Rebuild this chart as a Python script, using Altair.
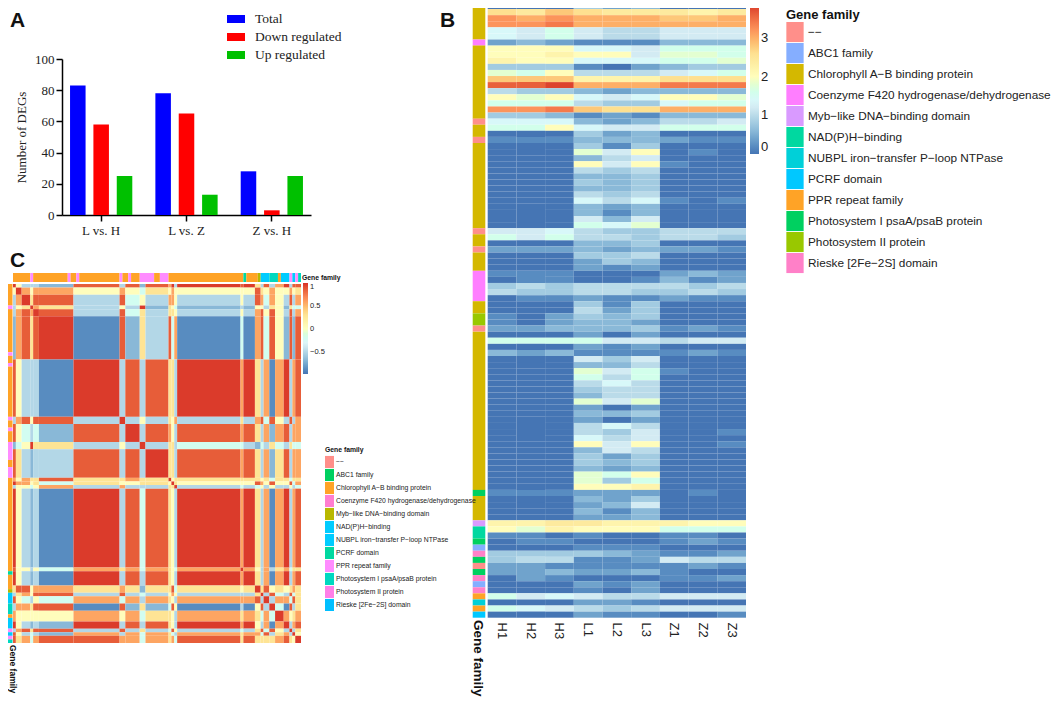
import altair as alt
import pandas as pd

# ---------- Panel A ----------
groups = ["L vs. H", "L vs. Z", "Z vs. H"]
series = ["Total", "Down regulated", "Up regulated"]
series_colors = ["#0000ff", "#ff0000", "#00c000"]
total = [83, 78, 28]
down = [58, 65, 3]
up = [25, 13, 25]

# ---------- Panel B ----------
samples = ["H1", "H2", "H3", "L1", "L2", "L3", "Z1", "Z2", "Z3"]
b_digits = "0123456789abcdefghij"
b_step = 0.2
b_rows = [
    "000423000", "dcedcccbc", "gfgfffeef", "gghffffff", "768655666", "768655666",
    "232111333", "aaa776888", "aabaa6998", "baa777889", "444102344", "98a555678",
    "eeebbbddd", "iijfffhhh", "544323333", "a9a767aa9", "888544788", "ggheddfff",
    "443121333", "777323556", "88a766888", "000423000", "111333211", "000414000",
    "00096a010", "000356000", "000a6a100", "000545000", "000334000", "000434000",
    "000334000", "000545000", "000757101", "000323000", "000313000", "000636000",
    "000879000", "667544555", "868554554", "000334000", "222323221", "000445000",
    "000243000", "000212000", "111000232", "011001312", "454555545", "544554454",
    "011211211", "000414000", "000524000", "102434000", "102332000", "223334121",
    "000202000", "888866566", "000212000", "323111121", "000646000", "000335000",
    "000968100", "000858000", "000575000", "000455000", "000355000", "000969000",
    "000202000", "000334000", "000202000", "000575000", "000546001", "000756000",
    "000a6a001", "000365000", "000424000", "000434000", "000323000", "00098a000",
    "000948000", "000aab000", "111222010", "000324000", "000236000", "000313000",
    "000223000", "bbccbbbaa", "a9baaa888", "110100110", "011000121", "000111000",
    "444432112", "455112655", "221111121", "223223100", "021000112", "000212000",
    "000102000", "867655666", "000221000", "876545666", "000211001",
]
families = [
    "\u2212\u2212", "ABC1 family", "Chlorophyll A\u2212B binding protein",
    "Coenzyme F420 hydrogenase/dehydrogenase", "Myb\u2212like DNA\u2212binding domain",
    "NAD(P)H\u2212binding", "NUBPL iron\u2212transfer P\u2212loop NTPase", "PCRF domain",
    "PPR repeat family", "Photosystem I psaA/psaB protein", "Photosystem II protein",
    "Rieske [2Fe\u22122S] domain",
]
b_family_colors = ["#ff8f8a", "#85aeff", "#d4b800", "#ff7eff", "#d99aff", "#00d8a0",
                   "#00d0d8", "#00c8ff", "#ffa326", "#00d060", "#99c800", "#ff80c8"]
# family index and length of each run down the left strip of panel B
b_ann_fam = [2, 3, 2, 0, 2, 0, 2, 0, 2, 0, 2, 3, 2, 10, 0, 2, 9, 2, 4, 5, 9, 1, 11, 9, 0, 9, 11, 1, 11, 8, 6, 8, 7]
b_ann_len = [6, 1, 12, 1, 2, 1, 14, 1, 2, 1, 3, 5, 2, 2, 1, 26, 1, 4, 1, 2, 1, 1, 1, 1, 1, 1, 1, 1, 1, 1, 1, 1, 1]
b_legend_ticks = [0, 1, 2, 3]

# ---------- Panel C ----------
c_family_colors = ["#ff8f8a", "#00d060", "#ffa326", "#ff7ed0", "#b8b800", "#00ccff",
                   "#00ccff", "#00d8a0", "#ff8cff", "#00d8c0", "#ff7ee8", "#00bfff"]
# gene clusters read along the axis (number of genes in each block)
c_block_len = [1, 2, 3, 1, 2, 12, 16, 2, 5, 2, 8, 1, 1, 1, 22, 1, 4, 2, 1, 2, 2, 3, 2, 1, 1, 2]
# correlation level between blocks (upper triangle), index into c_levels
c_levels = [-0.95, -0.88, -0.68, -0.5, -0.2, 0.03, 0.3, 0.58, 0.86, 0.97]
c_upper = [
    "9533328382" + "8793989638" + "379388",
    "9757757546" + "5755558657" + "55756",
    "9688384537" + "7535387475" + "3837",
    "9763539265" + "4232553652" + "644",
    "9838463665" + "3537858538" + "37",
    "9182638471" + "4178485282" + "8",
    "9383866397" + "9637179378",
    "9353657363" + "784853837",
    "9387538786" + "37278377",
    "9366344324" + "3643644",
    "9663878637" + "268377",
    "9566666564" + "66466",
    "96555875855847",
    "9343453533534",
    "979637179378",
    "97537367466",
    "9637179378",
    "968565676",
    "93843846",
    "9377486",
    "941836",
    "97567",
    "9378",
    "936",
    "95",
    "9",
]
c_ann_fam = [2, 8, 2, 8, 2, 8, 2, 8, 2, 8, 2, 8, 2, 8, 2, 7, 2, 4, 5, 9, 2, 5, 8, 5, 8, 9]
c_ann_len = [6, 1, 12, 1, 2, 1, 14, 1, 2, 1, 3, 5, 2, 3, 26, 1, 4, 1, 3, 3, 1, 3, 1, 1, 1, 1]
c_legend_ticks = [-0.5, 0, 0.5, 1]

# ---------- Styles / layout (chart coordinates = page pixels - 8) ----------
W, H = 1043, 691
RAMP = ["#4575b4", "#91bfdb", "#e0f3f8", "#ffffbf", "#fee090", "#fc8d59", "#d73027"]
SANS = "Liberation Sans"
SERIF = "Liberation Serif"


def runs(fams, lens, palette_names):
    rows, pos = [], 0
    for f, n in zip(fams, lens):
        rows.append({"family": palette_names[f], "p0": pos, "p1": pos + n})
        pos += n
    return pd.DataFrame(rows)


def txt(s, x, y, size, bold=False, angle=0, baseline="alphabetic", font=SANS):
    return alt.Chart(pd.DataFrame({"t": [s]})).mark_text(
        align="left", baseline=baseline, angle=angle, fontSize=size,
        fontWeight="bold" if bold else "normal", font=font, color="#111",
    ).encode(x=alt.value(x), y=alt.value(y), text="t:N")


# ----- A -----
a_df = pd.DataFrame([
    {"group": g, "series": s, "value": v}
    for s, vals in zip(series, [total, down, up]) for g, v in zip(groups, vals)
])
a_bars = alt.Chart(a_df).mark_bar().encode(
    x=alt.X("group:N", sort=groups, title=None,
            scale=alt.Scale(range=[54, 303], paddingInner=0.15, paddingOuter=0.034),
            axis=alt.Axis(orient="bottom", offset=207 - H, labelAngle=0, labelFont=SERIF,
                          labelFontSize=13, labelColor="#222", domainColor="#000", domainWidth=1.5,
                          tickColor="#000", tickWidth=1.5, tickSize=6, labelPadding=3, grid=False)),
    xOffset=alt.XOffset("series:N", sort=series,
                        scale=alt.Scale(paddingInner=0.335, paddingOuter=0.22)),
    y=alt.Y("value:Q", title="Number of DEGs",
            scale=alt.Scale(domain=[0, 100], range=[207, 51], nice=False),
            axis=alt.Axis(orient="left", offset=-54, values=[0, 20, 40, 60, 80, 100], labelFont=SERIF,
                          labelFontSize=13, labelColor="#222", domainColor="#000", domainWidth=1.5,
                          tickColor="#000", tickWidth=1.5, tickSize=6, labelPadding=2, grid=False,
                          titleFont=SERIF, titleFontSize=13, titleFontWeight="normal",
                          titleColor="#222", titlePadding=6)),
    color=alt.Color("series:N", sort=series,
                    scale=alt.Scale(domain=series, range=series_colors),
                    legend=alt.Legend(orient="none", legendX=219, legendY=2, title=None,
                                      symbolType="M-1,-0.44H1V0.44H-1Z", symbolSize=324,
                                      symbolStrokeWidth=0, symbolOpacity=1, labelFont=SERIF,
                                      labelFontSize=13.5, labelColor="#222", labelOffset=10,
                                      clipHeight=18, rowPadding=0, padding=0)),
)

# ----- B -----
b_df = pd.DataFrame([
    {"row": i, "col": samples[j], "value": b_digits.index(ch) * b_step}
    for i, r in enumerate(b_rows) for j, ch in enumerate(r)
])
b_y_range = [-5, 609.7]
b_heat = alt.Chart(b_df).mark_rect().encode(
    x=alt.X("col:N", sort=samples, title=None,
            scale=alt.Scale(range=[479.7, 738], paddingInner=0, paddingOuter=0),
            axis=alt.Axis(orient="bottom", offset=611 - H, labelAngle=90, labelAlign="left",
                          labelBaseline="middle", labelFont=SANS, labelFontSize=13,
                          labelColor="#222", domain=False, ticks=False, labelPadding=3, grid=False)),
    y=alt.Y("row:O", axis=None, scale=alt.Scale(range=b_y_range, paddingInner=0, paddingOuter=0)),
    color=alt.Color("value:Q",
                    scale=alt.Scale(domain=[0, 0.65, 1.3, 1.95, 2.6, 3.25, 3.9], range=RAMP),
                    legend=alt.Legend(orient="none", legendX=742, legendY=-5, title=None,
                                      gradientLength=151, gradientThickness=9, values=b_legend_ticks,
                                      labelFont=SANS, labelFontSize=13, labelColor="#222",
                                      gradientStrokeWidth=0, padding=0, tickCount=4, format="~g")),
)
b_ann_df = runs(b_ann_fam, b_ann_len, families)
b_ann = alt.Chart(b_ann_df).mark_rect().encode(
    x=alt.value(464.7), x2=alt.value(477.3),
    y=alt.Y("p0:Q", axis=None, scale=alt.Scale(domain=[0, len(b_rows)], range=b_y_range, nice=False, zero=False)),
    y2="p1:Q",
    color=alt.Color("family:N", scale=alt.Scale(domain=families, range=b_family_colors),
                    legend=alt.Legend(orient="none", legendX=778, legendY=1, title="Gene family",
                                      titleFont=SANS, titleFontSize=13, titleFontWeight="bold",
                                      titleColor="#111", titlePadding=0,
                                      symbolType="M-1,-1.17H1V1.17H-1Z", symbolSize=299,
                                      symbolStrokeWidth=0, symbolOpacity=1, labelFont=SANS,
                                      labelFontSize=11.8, labelColor="#222", labelOffset=4,
                                      clipHeight=20.2, rowPadding=0, padding=0, labelLimit=300,
                                      symbolLimit=0)),
)

# ----- C -----
cum = [0]
for n in c_block_len:
    cum.append(cum[-1] + n)
c_rows = []
for i, s in enumerate(c_upper):
    for k, ch in enumerate(s):
        j = i + k
        v = c_levels[int(ch)]
        c_rows.append({"x0": cum[j], "x1": cum[j + 1], "y0": cum[i], "y1": cum[i + 1], "value": v})
        if j != i:
            c_rows.append({"x0": cum[i], "x1": cum[i + 1], "y0": cum[j], "y1": cum[j + 1], "value": v})
c_df = pd.DataFrame(c_rows)
c_x_scale = alt.Scale(domain=[0, 100], range=[5, 293], nice=False, zero=False)
c_y_scale = alt.Scale(domain=[0, 100], range=[276, 635], nice=False, zero=False)
c_heat = alt.Chart(c_df).mark_rect().encode(
    x=alt.X("x0:Q", axis=None, scale=c_x_scale), x2="x1:Q",
    y=alt.Y("y0:Q", axis=None, scale=c_y_scale), y2="y1:Q",
    color=alt.Color("value:Q",
                    scale=alt.Scale(domain=[-0.98, -0.65, -0.32, 0.01, 0.34, 0.67, 1], range=RAMP),
                    legend=alt.Legend(orient="none", legendX=295, legendY=275, title=None,
                                      gradientLength=91, gradientThickness=5, values=c_legend_ticks,
                                      labelFont=SANS, labelFontSize=7.5, labelColor="#222",
                                      gradientStrokeWidth=0, padding=0, format="~g", labelOffset=2)),
)
c_ann_df = runs(c_ann_fam, c_ann_len, families)
c_top = alt.Chart(c_ann_df).mark_rect().encode(
    x=alt.X("p0:Q", axis=None, scale=c_x_scale), x2="p1:Q",
    y=alt.value(265), y2=alt.value(274),
    color=alt.Color("family:N", scale=alt.Scale(domain=families, range=c_family_colors),
                    legend=alt.Legend(orient="none", legendX=317, legendY=439, title="Gene family",
                                      titleFont=SANS, titleFontSize=6.8, titleFontWeight="bold",
                                      titleColor="#111", titlePadding=2,
                                      symbolType="M-1,-1.36H1V1.36H-1Z", symbolSize=81,
                                      symbolStrokeWidth=0, symbolOpacity=1, labelFont=SANS,
                                      labelFontSize=6.8, labelColor="#222", labelOffset=2,
                                      clipHeight=12.2, rowPadding=0, padding=0, labelLimit=200,
                                      symbolLimit=0)),
)
c_left = alt.Chart(c_ann_df).mark_rect().encode(
    x=alt.value(0), x2=alt.value(4.5),
    y=alt.Y("p0:Q", axis=None, scale=c_y_scale), y2="p1:Q",
    color=alt.Color("family:N", scale=alt.Scale(domain=families, range=c_family_colors), legend=None),
)

chart = alt.layer(
    a_bars, b_heat, b_ann, c_heat, c_top, c_left,
    txt("A", 2, 19, 21, bold=True),
    txt("B", 432, 19, 21, bold=True),
    txt("C", 2, 259, 21, bold=True),
    txt("Gene family", 470, 612, 13.5, bold=True, angle=90, baseline="middle"),
    txt("Gene family", 294, 270, 6.8, bold=True, baseline="middle"),
    txt("Gene family", 5, 637, 8.5, bold=True, angle=90, baseline="middle"),
).resolve_scale(
    x="independent", y="independent", color="independent"
).resolve_axis(
    x="independent", y="independent"
).resolve_legend(
    color="independent"
).properties(
    width=W, height=H, padding=0, autosize=alt.AutoSizeParams(type="none")
).configure_view(stroke=None)

chart.save("out.html", embed_options={"renderer": "svg", "actions": False})
